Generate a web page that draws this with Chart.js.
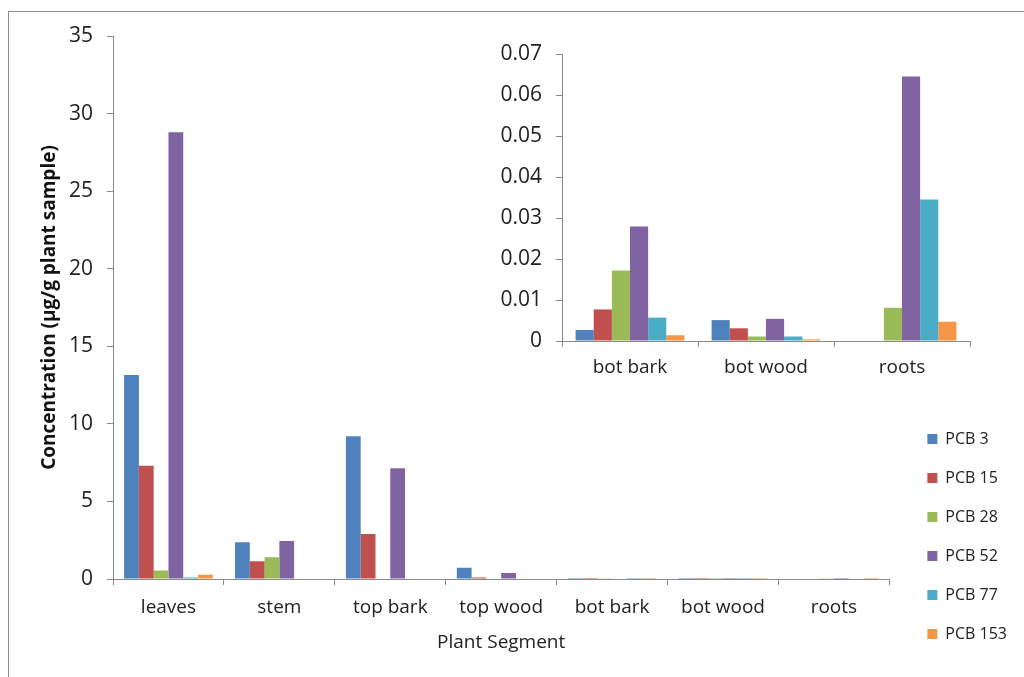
<!DOCTYPE html>
<html>
<head>
<meta charset="utf-8">
<script src="https://cdn.jsdelivr.net/npm/chart.js@4.4.1/dist/chart.umd.min.js"></script>
<style>
  html, body { margin: 0; padding: 0; background: #fff; }
  #page { position: relative; width: 1024px; height: 677px; overflow: hidden; background: #fff; }
  #frame { position: absolute; left: 8px; top: 11px; width: 1100px; height: 800px; border: 1px solid #8c8c8c; box-sizing: border-box; }
  #mainBox { position: absolute; left: 0; top: 0; width: 1024px; height: 677px; }
  #insetBox { position: absolute; left: 480px; top: 20px; width: 520px; height: 380px; }
</style>
</head>
<body>
<div id="page">
  <div id="frame"></div>
  <div id="mainBox"><canvas id="mainChart"></canvas></div>
  <div id="insetBox"><canvas id="insetChart"></canvas></div>
</div>
<script>
// ---- Data ----
const segments = ["leaves", "stem", "top bark", "top wood", "bot bark", "bot wood", "roots"];
const seriesNames = ["PCB 3", "PCB 15", "PCB 28", "PCB 52", "PCB 77", "PCB 153"];
const pcb3   = [13.15, 2.37, 9.2,  0.72, 0.0027, 0.0051, 0];
const pcb15  = [7.3,   1.15, 2.9,  0.1,  0.0077, 0.0031, 0];
const pcb28  = [0.55,  1.4,  0,    0.03, 0.0172, 0.0011, 0.0081];
const pcb52  = [28.8,  2.45, 7.14, 0.38, 0.0279, 0.0054, 0.0645];
const pcb77  = [0.1,   0,    0,    0,    0.0057, 0.0011, 0.0345];
const pcb153 = [0.28,  0,    0,    0,    0.0014, 0.0004, 0.0047];
const seriesColors = ["#4F81BD", "#C0504D", "#9BBB59", "#8064A2", "#4BACC6", "#F79646"];
const mainTicks = [0, 5, 10, 15, 20, 25, 30, 35];
const insetSegments = ["bot bark", "bot wood", "roots"];
const insetTicks = [0, 0.01, 0.02, 0.03, 0.04, 0.05, 0.06, 0.07];

const allSeries = [pcb3, pcb15, pcb28, pcb52, pcb77, pcb153];
const FONT = "'Open Sans', 'DejaVu Sans', sans-serif";
const AXIS = "#8a8a8a";
const TXT = "#222";

function makeDatasets(fromIdx) {
  return seriesNames.map((n, i) => ({
    label: n,
    data: allSeries[i].slice(fromIdx),
    backgroundColor: seriesColors[i],
    borderWidth: 0,
    categoryPercentage: 0.8,
    barPercentage: 1.0
  }));
}

// ---- Main chart ----
new Chart(document.getElementById("mainChart"), {
  type: "bar",
  data: { labels: segments, datasets: makeDatasets(0) },
  options: {
    responsive: true,
    maintainAspectRatio: false,
    animation: false,
    layout: { padding: { left: 35, top: 36, right: 7, bottom: 12 } },
    plugins: {
      tooltip: { enabled: false },
      legend: {
        position: "right",
        align: "end",
        labels: {
          font: { family: FONT, size: 16 },
          color: TXT,
          boxWidth: 10,
          boxHeight: 10,
          padding: 23
        }
      }
    },
    scales: {
      x: {
        grid: { display: true, drawOnChartArea: false, offset: true, color: AXIS, tickLength: 6 },
        border: { display: true, color: AXIS, width: 1 },
        ticks: { font: { family: FONT, size: 19 }, color: TXT, padding: 11, maxRotation: 0 },
        title: { display: true, text: "Plant Segment", font: { family: FONT, size: 19 }, color: TXT, padding: { top: 4, bottom: 11 } },
        afterFit: (s) => { s.height = 86; }
      },
      y: {
        min: 0, max: 35,
        afterBuildTicks: (s) => { s.ticks = mainTicks.map(v => ({ value: v })); },
        grid: { display: true, drawOnChartArea: false, color: AXIS, tickLength: 6 },
        border: { display: true, color: AXIS, width: 1 },
        ticks: { font: { family: FONT, size: 21 }, color: TXT, padding: 14 },
        title: { display: true, text: "Concentration (µg/g plant sample)", font: { family: FONT, size: 19, weight: "bold" }, color: "#111", padding: 3 },
        afterFit: (s) => { s.width = 78; }
      },
      spacer: {
        type: "linear",
        position: "right",
        display: true,
        grid: { display: false },
        border: { display: false },
        ticks: { display: false },
        afterFit: (s) => { s.width = 15; }
      }
    }
  }
});

// ---- Inset chart ----
new Chart(document.getElementById("insetChart"), {
  type: "bar",
  data: { labels: insetSegments, datasets: makeDatasets(4) },
  options: {
    responsive: true,
    maintainAspectRatio: false,
    animation: false,
    layout: { padding: { left: 0, top: 34, right: 30, bottom: 0 } },
    plugins: { tooltip: { enabled: false }, legend: { display: false } },
    scales: {
      x: {
        grid: { display: true, drawOnChartArea: false, offset: true, color: AXIS, tickLength: 6 },
        border: { display: true, color: AXIS, width: 1 },
        ticks: { font: { family: FONT, size: 19 }, color: TXT, padding: 9, maxRotation: 0 },
        afterFit: (s) => { s.height = 59; }
      },
      y: {
        min: 0, max: 0.07,
        afterBuildTicks: (s) => { s.ticks = insetTicks.map(v => ({ value: v })); },
        grid: { display: true, drawOnChartArea: false, color: AXIS, tickLength: 6 },
        border: { display: true, color: AXIS, width: 1 },
        ticks: { font: { family: FONT, size: 21 }, color: TXT, padding: 14,
                 callback: (v) => (v === 0 ? "0" : Number(v).toFixed(2)) },
        afterFit: (s) => { s.width = 82; }
      }
    }
  }
});
</script>
</body>
</html>
